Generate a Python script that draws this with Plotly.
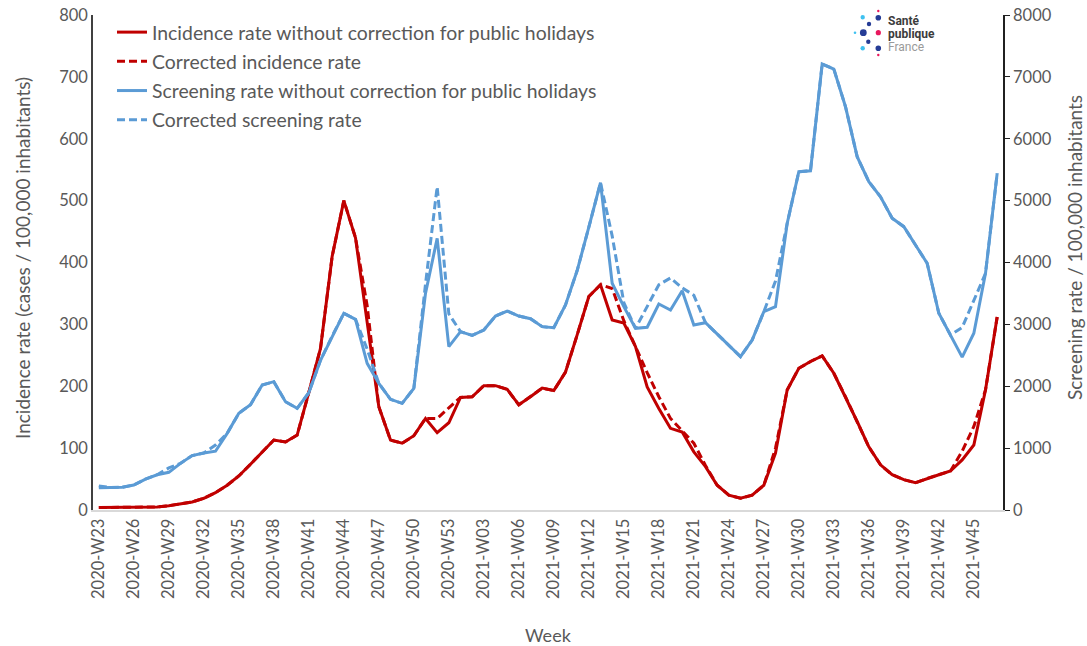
import plotly.graph_objects as go

# ---------------- data ----------------
weeks = [f"2020-W{w:02d}" for w in range(23, 54)] + [f"2021-W{w:02d}" for w in range(1, 48)]
tick_weeks = weeks[::3]

incidence = [4, 4, 4, 5, 5, 5, 7, 10, 13, 19, 28, 40, 55, 74, 94, 113, 110, 121, 190, 261,
             410, 500, 440, 300, 167, 113, 108, 120, 148, 125, 141,
             182, 183, 201, 201, 195, 170, 183, 197, 193, 223, 283, 345, 364, 307, 302, 264,
             199, 164, 132, 126, 94, 70, 40, 24, 19, 24, 40, 92, 194, 229, 240, 249, 221,
             183, 143, 102, 73, 57, 49, 44, 51, 57, 63, 81, 105, 194, 312]

incidence_corr = [4, 4, 4, 5, 5, 5, 7, 10, 13, 19, 28, 40, 55, 74, 94, 113, 110, 121, 190, 261,
                  410, 500, 440, 330, 167, 113, 108, 120, 148, 148, 165,
                  182, 183, 201, 201, 195, 170, 183, 197, 193, 223, 283, 345, 364, 358, 306, 264,
                  222, 183, 148, 128, 108, 72, 40, 24, 19, 24, 40, 100, 194, 229, 240, 249, 221,
                  183, 143, 102, 73, 57, 49, 44, 51, 57, 63, 95, 135, 194, 312]

screening = [360, 365, 367, 404, 500, 570, 609, 754, 880, 920, 950, 1239, 1562, 1702, 2020, 2074,
             1750, 1643, 1896, 2420, 2812, 3179, 3082, 2370, 2047, 1789, 1724, 1966, 3500, 4390, 2640,
             2882, 2823, 2909, 3135, 3216, 3135, 3092, 2963, 2947, 3313, 3870, 4570, 5290, 3664, 3286,
             2936, 2953, 3329, 3232, 3544, 2990, 3027, 2845, 2660, 2478, 2747, 3205, 3286, 4630,
             5467, 5483, 7208, 7127, 6518, 5710, 5306, 5063, 4714, 4579, 4283, 3987, 3179, 2828,
             2470, 2856, 3825, 5441]

screening_corr = [390, 365, 367, 404, 500, 570, 680, 754, 880, 920, 1050, 1239, 1562, 1702, 2020, 2074,
                  1750, 1643, 1896, 2420, 2812, 3179, 3082, 2600, 2047, 1789, 1724, 1966, 3650, 5225, 3170,
                  2882, 2823, 2909, 3135, 3216, 3135, 3092, 2963, 2947, 3313, 3870, 4570, 5290, 4430, 3350,
                  2936, 3290, 3640, 3750, 3590, 3470, 3027, 2845, 2660, 2478, 2747, 3205, 3700, 4630,
                  5467, 5483, 7208, 7127, 6518, 5710, 5306, 5063, 4714, 4579, 4283, 3987, 3179, 2828,
                  2950, 3400, 3825, 5441]

names = ["Incidence rate without correction for public holidays",
         "Corrected incidence rate",
         "Screening rate without correction for public holidays",
         "Corrected screening rate"]

RED = "#C00000"
BLUE = "#5B9BD5"
GREY = "#595959"
FONT = "Lato"

fig = go.Figure()
fig.add_trace(go.Scatter(x=weeks, y=incidence, name=names[0], mode="lines",
                         line=dict(color=RED, width=3), legendgroup="a"))
fig.add_trace(go.Scatter(x=weeks, y=incidence_corr, name=names[1], mode="lines",
                         line=dict(color=RED, width=3, dash="8px,4px"), legendgroup="b"))
fig.add_trace(go.Scatter(x=weeks, y=screening, name=names[2], mode="lines", yaxis="y2",
                         line=dict(color=BLUE, width=3), legendgroup="c"))
fig.add_trace(go.Scatter(x=weeks, y=screening_corr, name=names[3], mode="lines", yaxis="y2",
                         line=dict(color=BLUE, width=3, dash="8px,4px"), legendgroup="d"))

# the page body margin is removed in the page (post_script), so figure = page coordinates
W, H = 1087, 646
PL, PR, PT, PB = 93, 1003, 15, 510          # plot area in page pixels
L, T = PL, PT
R, B = W - PR, H - PB
pw = W - L - R
ph = H - T - B

def px(x):
    return (x - L) / pw

def py(y):
    return (H - B - y) / ph

fig.update_layout(
    width=W, height=H,
    margin=dict(l=L, r=R, t=T, b=B, autoexpand=False),
    paper_bgcolor="white", plot_bgcolor="white",
    font=dict(family=FONT, color=GREY, size=16),
    showlegend=True,
    legend=dict(x=px(112), y=py(13), xanchor="left", yanchor="top",
                bgcolor="rgba(0,0,0,0)", font=dict(size=19.4, color=GREY),
                traceorder="grouped", tracegroupgap=1, itemwidth=30),
    xaxis=dict(type="category", categoryorder="array", categoryarray=weeks,
               range=[-0.5, len(weeks) - 0.5], automargin=False,
               tickmode="array", tickvals=tick_weeks, ticktext=tick_weeks,
               tickangle=-90, tickfont=dict(size=16.5, color=GREY),
               showline=True, linecolor="#D9D9D9", linewidth=2, ticks="",
               showgrid=False, zeroline=False),
    yaxis=dict(range=[0, 800], dtick=100, showgrid=False, zeroline=False, automargin=False,
               showline=True, linecolor="#404040", linewidth=1.5, ticks="",
               ticklabeloverflow="allow",
               tickfont=dict(size=16.5, color=GREY)),
    yaxis2=dict(range=[0, 8000], dtick=1000, overlaying="y", side="right", automargin=False,
                showgrid=False, zeroline=False, showline=True, linecolor="#202020",
                linewidth=1.5, ticks="outside", ticklen=5, tickcolor="#202020",
                ticklabeloverflow="allow",
                tickfont=dict(size=16.5, color=GREY)),
)

# axis titles
fig.add_annotation(text="Week", xref="paper", yref="paper", x=px(548), y=py(635),
                   xanchor="center", yanchor="middle", showarrow=False,
                   font=dict(size=18, color=GREY))
fig.add_annotation(text="Incidence rate (cases / 100,000 inhabitants)", textangle=-90,
                   xref="paper", yref="paper", x=px(22), y=py(258),
                   xanchor="center", yanchor="middle", showarrow=False,
                   font=dict(size=19, color=GREY))
fig.add_annotation(text="Screening rate / 100,000 inhabitants", textangle=-90,
                   xref="paper", yref="paper", x=px(1074), y=py(248),
                   xanchor="center", yanchor="middle", showarrow=False,
                   font=dict(size=19, color=GREY))

# Santé publique France logo (decorative)
dots = [(862.7, 17.3, 2.2, "#3FC1F0"), (878.3, 17.7, 2.8, "#253C96"), (878.3, 11, 1.2, "#E8175D"),
        (869, 24, 2.2, "#253C96"), (855, 32.7, 1.3, "#3FC1F0"), (863.3, 32.7, 3.4, "#253C96"),
        (878.3, 32.7, 2.6, "#E8175D"), (868.3, 41.7, 2.2, "#253C96"), (862.7, 48.3, 2.2, "#3FC1F0"),
        (878.3, 48.3, 2.8, "#253C96"), (878.3, 55, 1.2, "#E8175D")]
for (cx, cy, r, c) in dots:
    fig.add_shape(type="circle", xref="paper", yref="paper",
                  x0=px(cx - r), x1=px(cx + r), y0=py(cy + r), y1=py(cy - r),
                  fillcolor=c, line=dict(width=0), layer="above")
for (txt, yy, col, bold) in [("Santé", 21, "#3C3C3C", True), ("publique", 33.5, "#3C3C3C", True),
                             ("France", 47.5, "#9A9A9A", False)]:
    fig.add_annotation(text=f"<b>{txt}</b>" if bold else txt, xref="paper", yref="paper",
                       x=px(886), y=py(yy), xanchor="left", yanchor="middle", showarrow=False,
                       font=dict(size=12, color=col, family="Roboto"))

fig.write_html("out.html", config={"displayModeBar": False},
               post_script="document.body.style.margin='0px';")
